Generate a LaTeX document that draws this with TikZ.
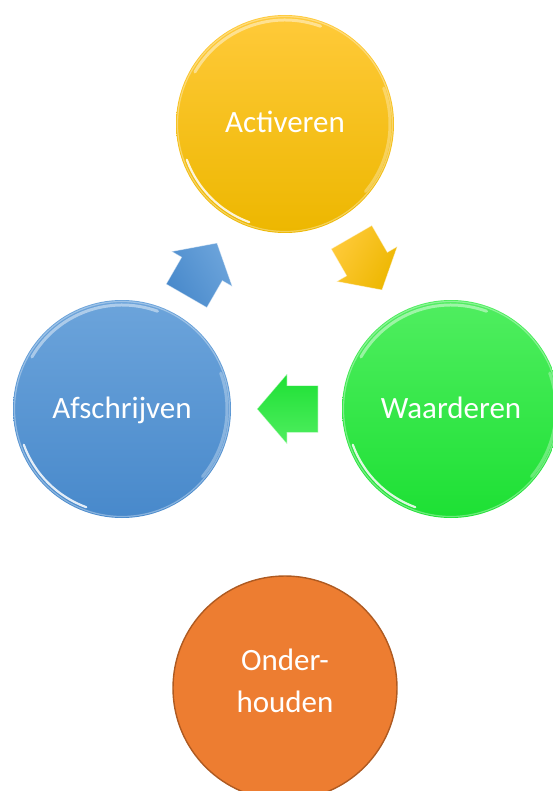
\documentclass[tikz,border=0pt]{standalone}
\usepackage{fontspec}
\setmainfont{Carlito}
\definecolor{ylTop}{HTML}{FFCA3A}
\definecolor{ylBot}{HTML}{EDB700}
\definecolor{blTop}{HTML}{6CA4DB}
\definecolor{blBot}{HTML}{4889CB}
\definecolor{grTop}{HTML}{50EE60}
\definecolor{grBot}{HTML}{1DE034}
\definecolor{orFill}{HTML}{ED7D31}
\definecolor{orLine}{HTML}{AE5A21}
\tikzset{
  ball/.style={circle, minimum size=218pt, inner sep=0pt},
  lbl/.style={text=white, font=\fontsize{31}{42}\selectfont, inner sep=0pt, anchor=base},
  rimtop/.style={white, opacity=.45, line width=3pt, line cap=round},
  rimlow/.style={white, opacity=.85, line width=2.2pt, line cap=round},
  rimring/.style={white, opacity=.35, line width=1.2pt},
  blockarrow/.pic={
    \path[pic actions] (0,0) -- (-30,-35) -- (-30,-23.5) -- (-61,-23.5)
      -- (-61,23.5) -- (-30,23.5) -- (-30,35) -- cycle;
  },
}
\begin{document}
\begin{tikzpicture}[x=1pt,y=-1pt]
\useasboundingbox (0,0) rectangle (553,791);
\clip (0,0) rectangle (553,791);

% glossy cycle circles
\node[ball, top color=ylTop, bottom color=ylBot] (act) at (285,124) {};
\node[ball, top color=grTop, bottom color=grBot] (waa) at (451,409) {};
\node[ball, top color=blTop, bottom color=blBot] (afs) at (122,409) {};

% plain circle below
\node[circle, minimum size=224pt, inner sep=0pt, fill=orFill, draw=orLine, line width=1.4pt] (ond) at (285,688) {};

% rim highlights
\foreach \n in {act,waa,afs}{
  \draw[rimring] (\n.center) circle[radius=107.5pt];
  \draw[rimtop] ([shift={(150:104pt)}]\n.center) arc[start angle=150, end angle=70, radius=104pt];
  \draw[rimlow] ([shift={(200:104.5pt)}]\n.center) arc[start angle=200, end angle=250, radius=104.5pt];
  \draw[rimtop, opacity=.3] ([shift={(20:105pt)}]\n.center) arc[start angle=20, end angle=-40, radius=105pt];
}

% labels
\node[lbl] (tact) at ([yshift=-9pt]act.center) {Activeren};
\node[lbl] (twaa) at ([yshift=-9pt]waa.center) {Waarderen};
\node[lbl] (tafs) at ([yshift=-9pt]afs.center) {Afschrijven};
\node[lbl] (tond1) at ([yshift=18pt]ond.center) {Onder-};
\node[lbl] (tond2) at ([yshift=-24pt]ond.center) {houden};

% block arrows between the circles
\pic[rotate=60, top color=blTop, bottom color=blBot, shading angle=-60,
     draw=white, draw opacity=.5, line width=.8pt] (arrb) at (217,243) {blockarrow};
\pic[rotate=-60, top color=ylTop, bottom color=ylBot, shading angle=60,
     draw=white, draw opacity=.5, line width=.8pt] (arry) at (382,290) {blockarrow};
\pic[rotate=180, top color=grTop, bottom color=grBot, shading angle=-180,
     draw=white, draw opacity=.5, line width=.8pt] (arrg) at (257,409) {blockarrow};
\end{tikzpicture}
\end{document}
